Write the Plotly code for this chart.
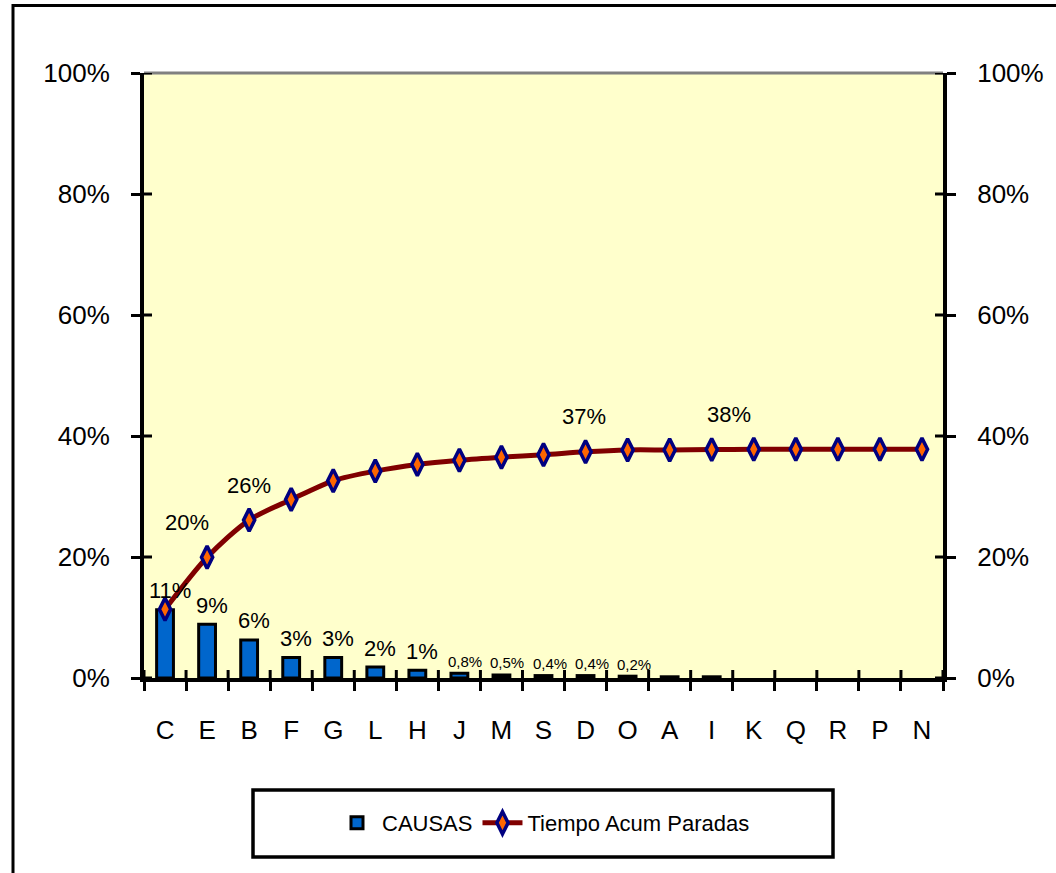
import plotly.graph_objects as go

categories = ["C", "E", "B", "F", "G", "L", "H", "J", "M", "S", "D", "O", "A", "I", "K", "Q", "R", "P", "N"]
# individual share of each cause (%)
causas = [11.3, 8.9, 6.3, 3.4, 3.4, 1.8, 1.3, 0.8, 0.5, 0.4, 0.4, 0.3, 0.2, 0.2, 0, 0, 0, 0, 0]
# cumulative downtime (%)
tiempo_acum = [11.35, 19.95, 26.1, 29.5, 32.6, 34.2, 35.3, 36.0, 36.5, 36.9, 37.4, 37.7, 37.7, 37.75, 37.8, 37.8, 37.8, 37.8, 37.8]
bar_labels = ["11%", "9%", "6%", "3%", "3%", "2%", "1%", "0,8%", "0,5%", "0,4%", "0,4%", "0,2%", "", "", "", "", "", "", ""]
line_labels = ["", "20%", "26%", "", "", "", "", "", "", "", "37%", "", "", "38%", "", "", "", "", ""]
y_ticks = [0, 0.2, 0.4, 0.6, 0.8, 1.0]

FONT = "Liberation Sans Narrow, Arial Narrow, Liberation Sans, Arial, sans-serif"
W, H = 1056, 873
L, R, T, B = 144, 113, 73, 195
PW, PH = W - L - R, H - T - B

def px_x(p):
    return (p - L) / PW

def px_y(p):
    return (H - B - p) / PH

fig = go.Figure()
fig.add_trace(go.Bar(
    x=categories, y=[v / 100 for v in causas], name="CAUSAS",
    marker=dict(color="#0066CC",
                line=dict(color="black", width=[3 if v > 0 else 0 for v in causas])),
    width=0.4, yaxis="y",
))
fig.add_trace(go.Scatter(
    x=categories, y=[v / 100 for v in tiempo_acum], name="Tiempo Acum Paradas",
    mode="lines+markers",
    line=dict(color="#800000", width=5, shape="spline", smoothing=0.8),
    marker=dict(symbol="diamond-tall", size=16, color="#FF6600",
                line=dict(color="#000080", width=3.5)),
    yaxis="y2",
))

annotations = []
for c, v, t in zip(categories, causas, bar_labels):
    if t:
        small = v < 1
        annotations.append(dict(
            x=c, y=v / 100, xref="x", yref="y", text=t, showarrow=False,
            xshift=6 if small else 5, yshift=12 if small else 19, yanchor="middle",
            font=dict(family=FONT, size=15 if small else 22, color="black"),
        ))
line_offsets = {1: -20, 2: 0, 10: -2, 13: 17}
for i, (c, v, t) in enumerate(zip(categories, tiempo_acum, line_labels)):
    if t:
        annotations.append(dict(
            x=c, y=v / 100, xref="x", yref="y2", text=t, showarrow=False,
            xshift=line_offsets.get(i, 0), yshift=35, yanchor="middle",
            font=dict(family=FONT, size=22, color="black"),
        ))

shapes = []
# outer chart border
shapes.append(dict(type="rect", xref="paper", yref="paper",
                   x0=px_x(13), x1=px_x(1070), y0=px_y(890), y1=px_y(5.5),
                   line=dict(color="black", width=3), fillcolor="rgba(0,0,0,0)", layer="below"))
# top border of plot area (gray)
shapes.append(dict(type="line", xref="paper", yref="paper", x0=0, x1=1, y0=1, y1=1,
                   line=dict(color="#808080", width=3)))
# inner halves of cross ticks
tl = 8
for v in y_ticks:
    shapes.append(dict(type="line", xref="paper", yref="y", x0=0, x1=tl / PW, y0=v, y1=v,
                       line=dict(color="black", width=3)))
    shapes.append(dict(type="line", xref="paper", yref="y", x0=1 - tl / PW, x1=1, y0=v, y1=v,
                       line=dict(color="black", width=3)))
for i in range(len(categories) + 1):
    shapes.append(dict(type="line", xref="x", yref="paper", x0=i - 0.5, x1=i - 0.5, y0=0, y1=tl / PH,
                       line=dict(color="black", width=3)))
# legend box
shapes.append(dict(type="rect", xref="paper", yref="paper",
                   x0=px_x(253), x1=px_x(833), y0=px_y(857), y1=px_y(790),
                   line=dict(color="black", width=3.5), fillcolor="white"))

axis_common = dict(
    range=[0, 1], tickvals=y_ticks, tickformat=".0%",
    showline=True, linecolor="black", linewidth=4,
    ticks="outside", ticklen=9, tickwidth=3, tickcolor="black",
    showgrid=False, zeroline=False,
    tickfont=dict(family=FONT, size=26, color="black"),
    ticklabelstandoff=16,
)

fig.update_layout(
    width=W, height=H,
    margin=dict(l=L, r=R, t=T, b=B, pad=0),
    paper_bgcolor="white", plot_bgcolor="#FFFFCC",
    font=dict(family=FONT, color="black"),
    xaxis=dict(type="category", categoryorder="array", categoryarray=categories,
               range=[-0.5, len(categories) - 0.5],
               showline=True, linecolor="black", linewidth=4,
               ticks="outside", tickson="boundaries", ticklen=9, tickwidth=3, tickcolor="black",
               showgrid=False, tickfont=dict(family=FONT, size=26, color="black"),
               ticklabelstandoff=26),
    yaxis=dict(side="left", **axis_common),
    yaxis2=dict(side="right", overlaying="y", **axis_common),
    showlegend=True,
    legend=dict(orientation="h", x=0.5, xanchor="center", y=px_y(823), yanchor="middle",
                bgcolor="rgba(0,0,0,0)", borderwidth=0,
                font=dict(family=FONT, size=22, color="black"),
                itemwidth=40, tracegroupgap=0),
    annotations=annotations,
    shapes=shapes,
)

fig.write_html("out.html")
